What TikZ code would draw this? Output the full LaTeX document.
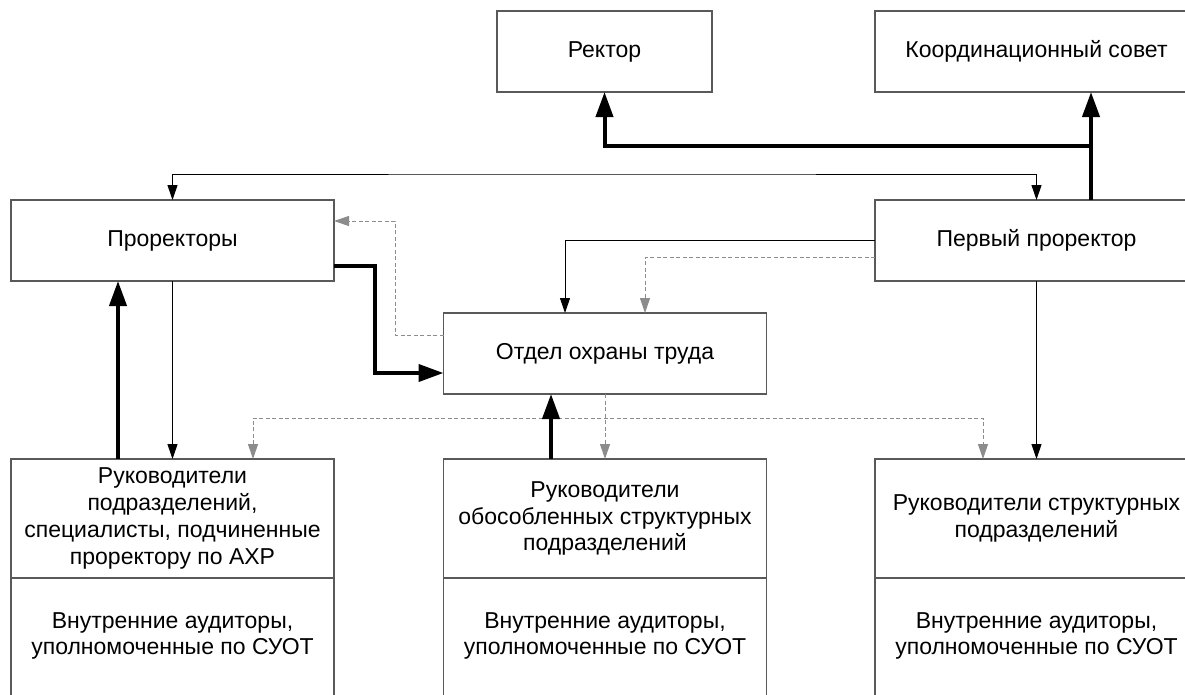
\documentclass[tikz,border=0pt]{standalone}
\usepackage{fontspec}
\setmainfont{Liberation Sans}
\usetikzlibrary{arrows.meta}
\definecolor{bordercol}{gray}{0.35}
\definecolor{dashcol}{gray}{0.55}
\tikzset{
  box/.style={draw=bordercol, line width=1.2pt, inner sep=0pt, outer sep=0pt,
    minimum width=323, align=center, font=\fontsize{23}{26.7}\selectfont},
  txt/.style={inner sep=0pt, outer sep=0pt, align=center, font=\fontsize{23}{26.7}\selectfont},
  edgeline/.style={draw=bordercol, line width=1.2pt},
  thn/.style={draw=black, line width=1pt, -{Triangle[length=15pt,width=10pt]}},
  thnboth/.style={draw=black, line width=1pt, {Triangle[length=15pt,width=10pt]}-{Triangle[length=15pt,width=10pt]}},
  dsh/.style={draw=dashcol, line width=1pt, dash pattern=on 4pt off 2.5pt, -{Triangle[length=15pt,width=10pt]}},
  dshboth/.style={draw=dashcol, line width=1pt, dash pattern=on 4pt off 2.5pt, {Triangle[length=15pt,width=10pt]}-{Triangle[length=15pt,width=10pt]}},
  thk/.style={draw=black, line width=4pt, -{Triangle[length=25pt,width=17pt]}},
}
\begin{document}
\begin{tikzpicture}[x=1pt,y=-1pt]
\useasboundingbox (0,0) rectangle (1185,694);
\clip (0,0) rectangle (1185,694);
\fill[white] (0,0) rectangle (1185,694);
% top row
\node[box, minimum width=215, minimum height=81] (rektor) at (604.5,51.5) {Ректор};
\node[box, minimum height=81] (coord) at (1036.5,51.5) {Координационный совет};
% second row
\node[box, minimum height=81] (pro) at (172.5,240.5) {Проректоры};
\node[box, minimum height=81] (first) at (1036.5,240.5) {Первый проректор};
% middle
\node[box, minimum height=81] (otdel) at (605,353.5) {Отдел охраны труда};
% bottom row, upper sections
\node[box, minimum height=119] (lb) at (172.5,518.5) {Руководители\\подразделений,\\специалисты, подчиненные\\проректору по АХР};
\node[box, minimum height=119] (mb) at (605,518.5) {Руководители\\обособленных структурных\\подразделений};
\node[box, minimum height=119] (rb) at (1036.5,518.5) {Руководители структурных\\подразделений};
% bottom row, lower sections
\node[txt] (lb2) at (172.5,636) {Внутренние аудиторы,\\уполномоченные по СУОТ};
\node[txt] (mb2) at (605,636) {Внутренние аудиторы,\\уполномоченные по СУОТ};
\node[txt] (rb2) at (1036.5,636) {Внутренние аудиторы,\\уполномоченные по СУОТ};
\draw[edgeline] (lb.south west) -- ++(0,130) (lb.south east) -- ++(0,130);
\draw[edgeline] (mb.south west) -- ++(0,130) (mb.south east) -- ++(0,130);
\draw[edgeline] (rb.south west) -- ++(0,130) (rb.south east) -- ++(0,130);

% coordinates for bends
\coordinate (j1) at (1091,146);
\coordinate (h1) at (600,174);
\coordinate (q1) at (395,221);
\coordinate (q2) at (395,335);
\coordinate (k1) at (375,266);
\coordinate (k2) at (375,373);
\coordinate (s1) at (565,240);
\coordinate (s2) at (645,257);
\coordinate (d0) at (605,418);
\coordinate (dl) at (253,418);
\coordinate (dr) at (983,418);
\coordinate (t1) at (551,418);
\coordinate (t2) at (118,418);

% thick: first prorector -> coordination council and rector
\draw[thk] (first.north -| j1) -- (coord.south -| j1);
\draw[thk] (j1) -| (rektor.south);
% thin: prorectors <-> first prorector
\draw[thnboth] (pro.north) |- (h1) -| (first.north);
% dashed: otdel -> prorectors
\draw[dsh] (otdel.west |- q2) -- (q2) -- (q1) -- (pro.east |- q1);
% thick: prorectors -> otdel
\draw[thk] (pro.east |- k1) -- (k1) -- (k2) -- (otdel.west |- k2);
% first prorector -> otdel (solid and dashed)
\draw[thn] (first.west |- s1) -| (otdel.north -| s1);
\draw[dsh] (first.west |- s2) -| (otdel.north -| s2);
% first prorector -> right bottom
\draw[thn] (first.south) -- (rb.north);
% dashed: otdel -> bottom boxes
\draw[dsh] (otdel.south -| d0) -- (mb.north -| d0);
\draw[dshboth] (lb.north -| dl) -- (dl) -- (dr) -- (rb.north -| dr);
% thick: middle bottom -> otdel
\draw[thk] (mb.north -| t1) -- (otdel.south -| t1);
% thick: left bottom -> prorectors
\draw[thk] (lb.north -| t2) -- (pro.south -| t2);
% thin: prorectors -> left bottom
\draw[thn] (pro.south) -- (lb.north);
\end{tikzpicture}
\end{document}
